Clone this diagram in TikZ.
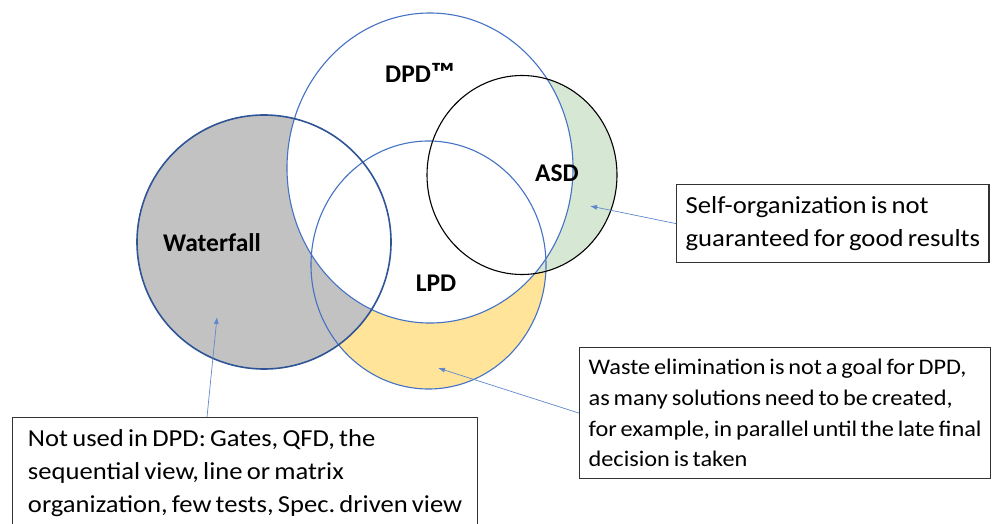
\documentclass[tikz,border=0pt]{standalone}
\usepackage{fontspec}
\setmainfont{Carlito}[FakeStretch=1.09, WordSpace=0.7]
\newfontfamily\tagfont{Carlito}
\usepackage{tikz}
\usetikzlibrary{arrows.meta}
\definecolor{vennblue}{RGB}{68,114,196}
\definecolor{wfblue}{RGB}{47,85,151}
\definecolor{wfgrey}{RGB}{194,194,194}
\definecolor{lpdyellow}{RGB}{255,228,153}
\definecolor{asdgreen}{RGB}{214,232,212}
\definecolor{notegrey}{RGB}{50,50,50}
\frenchspacing

\begin{document}
\begin{tikzpicture}[x=1pt, y=-1pt,
  ring/.style={draw=vennblue, line width=1.1pt},
  tag/.style={font=\tagfont\fontsize{25.5}{30}\selectfont\bfseries},
  note/.style={draw=notegrey, line width=1.2pt, anchor=north west, align=left, inner xsep=9pt},
  pointer/.style={vennblue!85, line width=0.7pt, -{Latex[length=7pt,width=5pt]}}]
            \useasboundingbox (0,0) rectangle (992,524);
            % Venn regions, filled back to front
            \coordinate (wf) at (264,242);
            \coordinate (dpd) at (430,168);
            \coordinate (lpd) at (428.5,265);
            \coordinate (asd) at (522,175);
            \fill[lpdyellow] (lpd) ellipse [x radius=117.5pt, y radius=124pt];
            \fill[asdgreen] (asd) ellipse [x radius=95pt, y radius=99.5pt];
            \fill[wfgrey] (wf) circle [radius=127pt];
            \fill[white] (dpd) ellipse [x radius=143pt, y radius=155pt];
            \draw[ring] (dpd) ellipse [x radius=143pt, y radius=155pt];
            \draw[ring] (lpd) ellipse [x radius=117.5pt, y radius=124pt];
            \draw[black, line width=1.1pt] (asd) ellipse [x radius=95pt, y radius=99.5pt];
            \draw[wfblue, line width=1.6pt] (wf) circle [radius=127pt];

            \node[tag] (dpdlabel) at (420,73) {DPD\scalebox{1.3}[1.1]{™}};
            \node[tag] (asdlabel) at (557,173) {ASD};
            \node[tag] (lpdlabel) at (436,283) {LPD};
            \node[tag] (wflabel) at (212,243) {Waterfall};

            % Comment boxes
            \node[note, minimum width=312pt, minimum height=78pt, font=\fontsize{24.5}{33}\selectfont] (selfnote) at (676,184) {Self-organization is not\\guaranteed for good results};
            \node[note, minimum width=410pt, minimum height=131pt, font=\fontsize{22.3}{30.8}\selectfont] (wastenote) at (579,347) {Waste elimination is not a goal for DPD,\\as many solutions need to be created,\\for example, in parallel until the late final\\decision is taken};
            \node[note, minimum width=465pt, inner ysep=12pt, font=\fontsize{24.4}{33}\selectfont] (wfnote) at (12,417) {Not used in DPD: Gates, QFD, the\\sequential view, line or matrix\\organization, few tests, Spec. driven view};

            \coordinate (asdtip) at (590,206);
            \coordinate (lpdtip) at (438,368);
            \coordinate (wftip) at (217,317);
            \coordinate (wfstart) at (207,417);
            \draw[pointer] (selfnote.west) -- (asdtip);
            \draw[pointer] (wastenote.west) -- (lpdtip);
            \draw[pointer] (wfstart) -- (wftip);
        \end{tikzpicture}
\end{document}
